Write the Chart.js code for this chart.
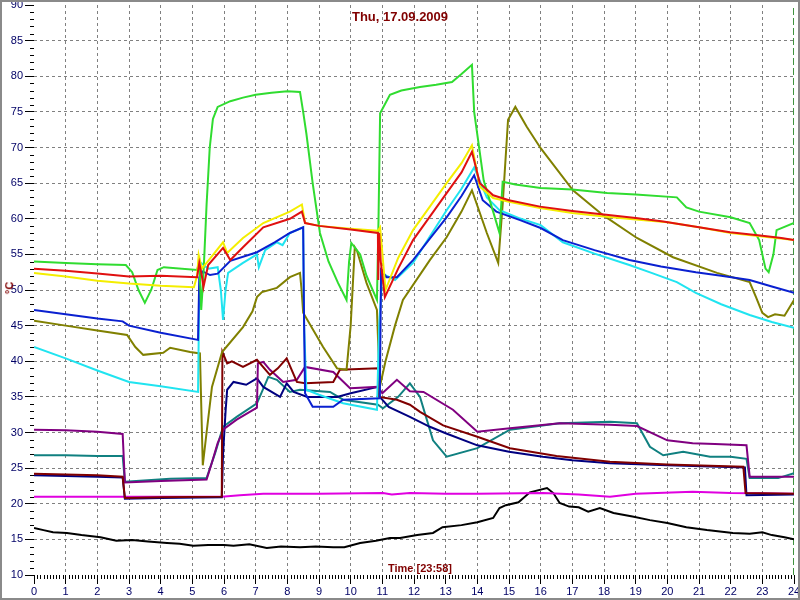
<!DOCTYPE html>
<html>
<head>
<meta charset="utf-8">
<script src="https://cdn.jsdelivr.net/npm/chart.js@4/dist/chart.umd.min.js"></script>
<style>
  html, body { margin: 0; padding: 0; background: #fff; }
  #wrap { position: relative; width: 800px; height: 600px; }
  #chart { position: absolute; left: 0; top: 0; }
  .lbl { position: absolute; font-family: "Liberation Sans", Arial, sans-serif; font-weight: bold; color: #800000; white-space: nowrap; }
  #title { left: 0; width: 800px; top: 9px; text-align: center; font-size: 13px; }
  #time { left: 388px; top: 562px; font-size: 11px; }
  #unit { left: 3px; top: 282px; font-size: 11px; transform: rotate(-90deg); transform-origin: center; }
</style>
</head>
<body>
<div id="wrap">
  <canvas id="chart" width="800" height="600"></canvas>
  <div class="lbl" id="title">Thu, 17.09.2009</div>
  <div class="lbl" id="time">Time [23:58]</div>
  <div class="lbl" id="unit">°C</div>
</div>
<script>
// [hour, °C]
const green = [[0,54],[1,53.8],[2,53.6],[2.9,53.5],[3.1,52.5],[3.3,50],[3.5,48.2],[3.7,50],[3.9,52.8],[4.1,53.2],[5.15,52.8],[5.22,54],[5.28,47.2],[5.35,52],[5.45,62],[5.55,70],[5.65,74],[5.8,75.7],[6.2,76.5],[6.6,77],[7,77.4],[7.5,77.7],[8,77.9],[8.4,77.8],[8.5,75],[8.6,72],[8.8,65],[9.03,58],[9.3,54],[9.6,51],[9.87,48.6],[9.95,54],[10.02,56.6],[10.3,55],[10.5,52],[10.83,48.6],[10.88,60],[10.93,74.8],[11.24,77.4],[11.6,78],[12.19,78.5],[12.7,78.8],[13.2,79.2],[13.5,80.3],[13.83,81.6],[13.9,75],[14.2,65.4],[14.5,61],[14.7,58],[14.8,65.2],[15.2,64.8],[16,64.3],[17,64.1],[18.1,63.6],[19,63.4],[20.3,63],[20.6,61.6],[21,61],[22,60.2],[22.6,59.4],[22.9,57],[23.1,53],[23.2,52.5],[23.35,55],[23.45,58.4],[24,59.4]];
const red = [[0,53],[1,52.7],[2,52.3],[3,51.9],[4,52],[5.15,51.8],[5.22,53.8],[5.3,52],[5.35,50.4],[5.5,53.5],[5.97,55.9],[6.2,54.2],[6.6,56],[7.24,58.8],[8.08,60],[8.46,61],[8.56,59.4],[9,59],[10,58.5],[10.86,58],[10.87,51.4],[10.9,58],[10.95,54],[11.08,49],[11.5,53],[11.97,57],[12.5,60.3],[13.03,63.6],[13.5,66.5],[13.83,69.4],[14.08,65],[14.5,63.3],[15,62.6],[15.98,61.7],[17,61.1],[17.78,60.7],[19,60.1],[19.87,59.6],[21,58.8],[21.98,58.1],[23,57.6],[23.6,57.3],[24,57]];
const yellow = [[0,52.4],[1,51.9],[2,51.3],[3,50.9],[4,50.6],[5.05,50.4],[5.15,52],[5.2,54.9],[5.3,53],[5.45,53.8],[5.97,56.7],[6.1,55.2],[6.6,57.3],[7.24,59.4],[8.08,61],[8.46,62],[8.56,59.4],[9,59],[10,58.6],[10.86,58.3],[10.93,58.8],[11.1,50],[11.5,54.5],[11.97,58.4],[12.5,61.7],[13.03,65],[13.5,67.8],[13.83,70.3],[14.08,64.5],[14.5,62.9],[15,62.4],[15.98,61.5],[17,60.8],[18,60.3],[19,59.9],[20,59.5],[21,58.8],[22,58],[23,57.5],[24,57]];
const blue = [[0,47.2],[1,46.6],[2,46],[2.8,45.6],[3,45],[4,44],[5.18,43],[5.22,51.8],[5.33,52.6],[5.56,52.1],[5.8,52.3],[6.2,54.1],[7.04,55.3],[7.6,56.7],[8.08,58],[8.5,58.8],[8.53,45],[8.56,35.5],[8.8,33.6],[9.45,33.6],[9.76,34.6],[10.92,34.8],[10.96,52.8],[11.13,51.8],[11.46,51.8],[11.97,54.2],[12.5,57.2],[13.03,60.2],[13.5,63.2],[13.9,66.1],[14.17,62.6],[14.6,61],[15.35,59.8],[16,58.7],[16.7,57],[17.7,55.6],[18.8,54.2],[19.8,53.3],[20.9,52.5],[21.7,52],[22.6,51.4],[23.3,50.5],[24,49.6]];
const cyan = [[0,42],[1,40.4],[2,38.7],[3,37.1],[4,36.5],[5.18,35.7],[5.22,50],[5.28,53.8],[5.5,53],[5.8,53.2],[5.9,50],[5.97,45.8],[6.05,50],[6.13,52.4],[6.6,53.8],[7.04,55],[7.1,53.2],[7.3,55.6],[7.67,56.7],[7.85,56.3],[8.08,58],[8.5,58.8],[8.53,45],[8.6,36],[9,35.3],[9.76,34.1],[10.83,33.2],[10.9,45],[11,52.4],[11.13,52],[11.4,51.4],[11.97,53.8],[12.5,57.5],[13.03,61.2],[13.5,64.2],[13.9,67.2],[14.3,63],[14.7,61.2],[15.3,60.1],[16,59.1],[16.7,56.7],[17.7,55.1],[18.8,53.5],[19.5,52.4],[20.3,51.1],[20.9,49.6],[21.7,48],[22.6,46.5],[23.3,45.5],[24,44.7]];
const olive = [[0,45.7],[1,45],[2,44.3],[2.94,43.7],[3.2,42],[3.45,40.9],[4.08,41.2],[4.3,41.9],[4.93,41.3],[5.24,41.1],[5.33,25.4],[5.45,30],[5.62,36.4],[5.94,41.3],[6.6,44.8],[6.9,47],[7.04,49],[7.2,49.7],[7.67,50.3],[8.08,51.8],[8.4,52.4],[8.45,50],[8.5,46.8],[9.13,42],[9.57,39],[9.87,38.8],[10,45],[10.13,56],[10.2,55.5],[10.5,51],[10.83,47.2],[10.92,36.4],[11.1,40],[11.4,45],[11.65,48.6],[12.5,54.2],[13.03,57.4],[13.5,61],[13.83,64],[14.3,58],[14.66,53.8],[14.8,62],[14.97,73.9],[15.2,75.7],[15.56,72.9],[16,69.9],[17.02,64],[17.97,60.5],[19.04,57.3],[20.18,54.6],[21.57,52.4],[22.6,51.1],[22.8,49],[23,46.8],[23.18,46.2],[23.4,46.6],[23.7,46.4],[24,48.6]];
const maroon = [[0,24.2],[1,24.1],[2,24],[2.8,23.8],[2.87,20.8],[4,20.9],[5.93,21],[5.95,41.3],[6.1,39.7],[6.25,40],[6.6,39.2],[7.04,40.2],[7.45,38.1],[7.7,39],[7.98,40.4],[8.3,37.1],[8.56,36.9],[9.45,37.1],[9.66,38.8],[10.86,39],[10.9,35],[11.46,34.6],[11.87,33.9],[12.19,32.9],[12.92,31],[14,29.4],[15.03,27.8],[16.5,26.7],[18.19,25.9],[20,25.5],[22.4,25.2],[22.47,21.5],[24,21.4]];
const navy = [[0,24],[1,23.9],[2,23.8],[2.8,23.7],[2.87,20.7],[4,20.8],[5.93,20.9],[5.97,27],[6.05,33],[6.1,36],[6.3,37.1],[6.7,36.7],[7.04,37.6],[7.24,36.4],[7.77,35],[7.98,36.9],[8.2,35.7],[8.63,35],[9.57,35],[10,35.5],[10.86,36.4],[10.92,35],[11.2,33.6],[11.87,32.2],[12.5,30.8],[13,29.9],[14,28.2],[15,27.3],[16.07,26.6],[17,26.1],[18.19,25.7],[20,25.4],[22.45,25.1],[22.5,21.2],[24,21.3]];
const purple = [[0,30.4],[1,30.3],[2,30.1],[2.8,29.8],[2.87,23],[4,23.2],[5.45,23.4],[5.6,25.5],[5.8,28.5],[6,30.5],[6.4,31.8],[7.04,33.5],[7.07,39.7],[7.24,39.9],[7.45,38.8],[7.87,37.1],[8.3,37.4],[8.56,39.2],[9.45,38.5],[9.98,36.2],[10.86,36.4],[11,35.5],[11.46,37.4],[11.87,35.8],[12.3,35.7],[13.23,33.2],[14,30.1],[15.03,30.6],[16.6,31.3],[18.19,31.1],[19.04,30.9],[20,28.9],[20.8,28.5],[21.5,28.4],[22.5,28.2],[22.6,23.8],[24,23.8]];
const teal = [[0,26.8],[1,26.8],[2,26.7],[2.8,26.7],[2.87,23.1],[4.3,23.5],[5.45,23.6],[5.72,27.1],[5.97,30.8],[6.4,32.2],[7.04,34.1],[7.4,37.8],[7.67,37.4],[8.08,35.7],[8.4,36],[9.35,35.7],[9.76,34.6],[10.86,33.9],[11.02,33.4],[11.5,35],[11.87,36.9],[12.19,35],[12.6,28.9],[13.03,26.6],[14,27.8],[15.03,30.4],[16.6,31.3],[18.19,31.5],[19.04,31.3],[19.45,28],[19.87,26.8],[20.5,27.3],[21.35,26.6],[22,26.6],[22.5,26.3],[22.6,23.6],[23.5,23.6],[24,24.3]];
const magenta = [[0,21],[2,21],[4,21],[5.93,21],[6.5,21.2],[7.24,21.4],[9,21.4],[11.02,21.5],[11.3,21.3],[11.87,21.5],[13,21.4],[14,21.4],[16.07,21.5],[17.2,21.3],[18.19,21],[19,21.4],[20.8,21.7],[22,21.5],[24,21.4]];
const black = [[0,16.6],[0.3,16.3],[0.6,16],[1.04,15.9],[1.5,15.6],[2.1,15.3],[2.6,14.8],[3.1,14.9],[3.6,14.7],[4.2,14.5],[4.6,14.4],[5.03,14.1],[5.5,14.2],[6,14.2],[6.3,14.1],[6.8,14.3],[7.35,13.8],[7.8,14],[8.4,13.9],[8.9,14],[9.45,13.9],[9.8,13.9],[10.3,14.5],[10.8,14.8],[11.24,15.2],[11.56,15.2],[12.1,15.6],[12.6,15.9],[12.9,16.7],[13.5,17],[14,17.4],[14.5,18],[14.7,19.4],[14.9,19.8],[15.3,20.2],[15.66,21.6],[16.2,22.2],[16.4,21.5],[16.6,20.1],[16.9,19.6],[17.2,19.5],[17.5,18.9],[17.87,19.4],[18.3,18.7],[18.9,18.2],[19.45,17.7],[20,17.3],[20.6,16.7],[21.25,16.3],[22.07,15.9],[22.6,15.8],[23,16],[23.3,15.6],[23.7,15.3],[24,15]];
const nowMarker = [[24,10],[24,90]];

const xMin = 0, xMax = 24, yMin = 10, yMax = 90;

// first in list is drawn on top
const series = [
  [red, "#e01010"],
  [yellow, "#f4ee00"],
  [green, "#30dc30"],
  [blue, "#0a20d0"],
  [cyan, "#20e4f0"],
  [olive, "#808000"],
  [maroon, "#800000"],
  [purple, "#800080"],
  [navy, "#000080"],
  [teal, "#108080"],
  [magenta, "#e000e0"],
  [black, "#000000"],
];

const datasets = series.map(([pts, color]) => ({
  data: pts.map(([x, y]) => ({ x, y })),
  borderColor: color,
  borderWidth: 2,
  pointRadius: 0,
  tension: 0,
  fill: false,
}));
datasets.push({
  data: nowMarker.map(([x, y]) => ({ x, y })),
  borderColor: "#007000",
  borderWidth: 1.5,
  borderDash: [7, 3],
  pointRadius: 0,
  fill: false,
});

const labelFont = { family: "Liberation Sans, Arial, sans-serif", size: 11 };
const gridColor = (ctx, lo, hi) =>
  ctx.tick && (ctx.tick.value === lo || ctx.tick.value === hi) ? "rgba(0,0,0,0)" : "#808080";

const minorTicks = {
  id: "minorTicks",
  afterDraw(chart) {
    const { ctx, scales: { x, y }, chartArea } = chart;
    ctx.save();
    ctx.strokeStyle = "#000";
    ctx.lineWidth = 1;
    ctx.beginPath();
    for (let i = 0; i <= 240; i++) {
      if (i % 10 === 0) continue;
      const px = Math.round(x.getPixelForValue(i / 10)) + 0.5;
      ctx.moveTo(px, chartArea.bottom);
      ctx.lineTo(px, chartArea.bottom + 4);
    }
    for (let v = yMin; v <= yMax; v++) {
      if (v % 5 === 0) continue;
      const py = Math.round(y.getPixelForValue(v)) + 0.5;
      ctx.moveTo(chartArea.left - 4, py);
      ctx.lineTo(chartArea.left, py);
    }
    ctx.stroke();
    ctx.strokeStyle = "#8a8a8a";
    ctx.lineWidth = 2;
    ctx.strokeRect(1, 1, chart.width - 2, chart.height - 2);
    ctx.restore();
  },
};

new Chart(document.getElementById("chart"), {
  type: "line",
  data: { datasets },
  options: {
    responsive: false,
    animation: false,
    layout: { padding: { top: 5, right: 6, left: 0, bottom: 0 } },
    plugins: { legend: { display: false }, tooltip: { enabled: false } },
    scales: {
      x: {
        type: "linear",
        min: xMin,
        max: xMax,
        afterFit: (s) => { s.height = 25; s.paddingLeft = 0; s.paddingRight = 0; },
        ticks: { stepSize: 1, autoSkip: false, maxRotation: 0, padding: 1, color: "#000066", font: labelFont },
        grid: { color: (c) => gridColor(c, xMin, xMax), lineWidth: 1, tickColor: "#000", tickLength: 9 },
        border: { display: false, dash: [3, 3] },
      },
      y: {
        min: yMin,
        max: yMax,
        afterFit: (s) => { s.width = 34; s.paddingTop = 0; s.paddingBottom = 0; },
        ticks: { stepSize: 5, padding: 2, color: "#000066", font: labelFont },
        grid: { color: (c) => gridColor(c, yMin, yMax), lineWidth: 1, tickColor: "#000", tickLength: 9 },
        border: { display: false, dash: [3, 3] },
      },
    },
  },
  plugins: [minorTicks],
});
</script>
</body>
</html>
